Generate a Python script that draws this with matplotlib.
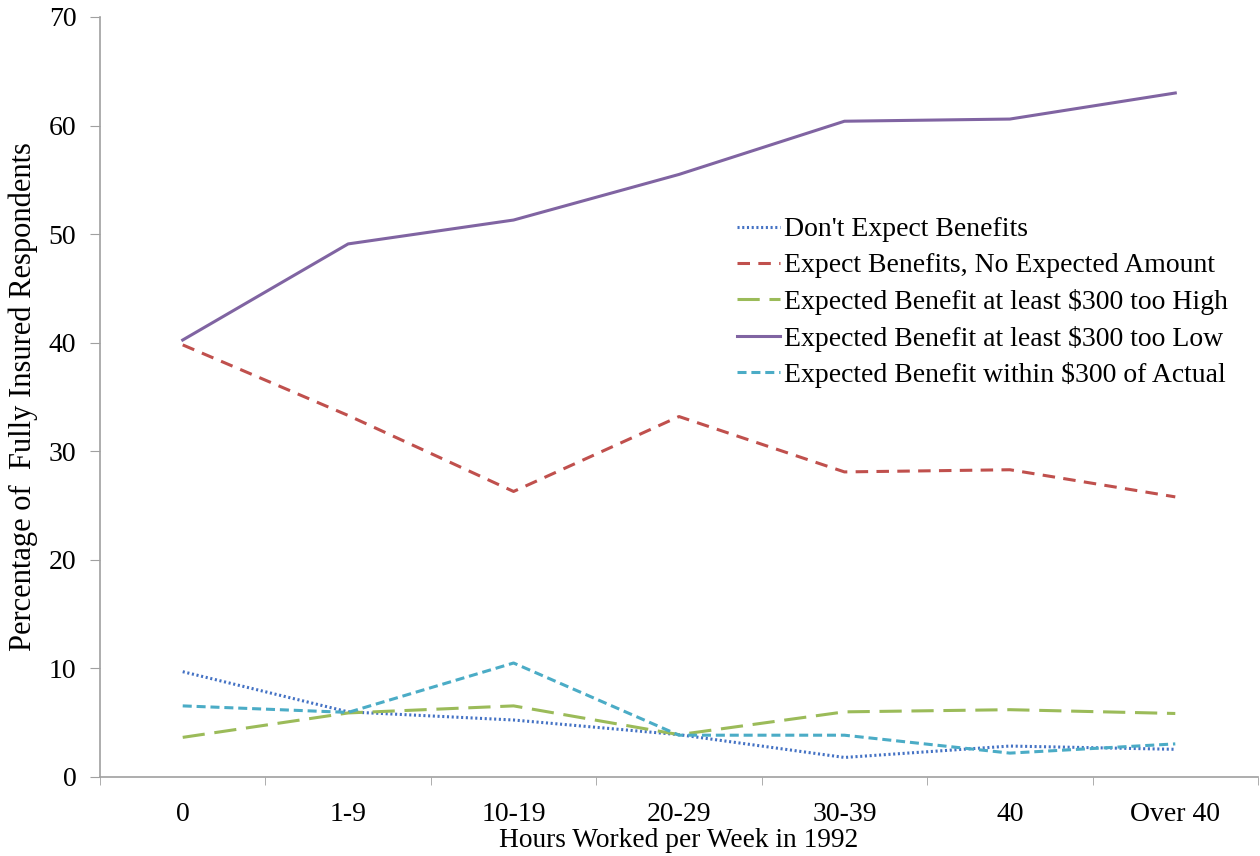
import numpy as np
import matplotlib
matplotlib.use("Agg")
import matplotlib.pyplot as plt

plt.rcParams['font.family'] = ['Liberation Serif', 'DejaVu Serif']
plt.rcParams['lines.scale_dashes'] = False

categories = ["0", "1-9", "10-19", "20-29", "30-39", "40", "Over 40"]
dont_expect = [9.7, 6.0, 5.25, 3.9, 1.8, 2.85, 2.55]
no_amount = [39.8, 33.3, 26.3, 33.2, 28.1, 28.3, 25.8]
too_high = [3.65, 5.9, 6.55, 3.9, 6.0, 6.2, 5.85]
too_low = [40.25, 49.1, 51.3, 55.5, 60.4, 60.6, 63.0]
within = [6.55, 5.95, 10.5, 3.85, 3.85, 2.2, 3.05]

labels = ["Don't Expect Benefits",
          "Expect Benefits, No Expected Amount",
          "Expected Benefit at least $300 too High",
          "Expected Benefit at least $300 too Low",
          "Expected Benefit within $300 of Actual"]
series = [dont_expect, no_amount, too_high, too_low, within]
colors = ["#4472C4", "#C0504D", "#9BBB59", "#8064A2", "#4BACC6"]
dashes = [(0, (1.5, 1.9)), (0, (9, 6)), (0, (16, 7)), "-", (0, (6.5, 3.5))]

fig = plt.figure(figsize=(12.6, 8.56), dpi=100)
ax = fig.add_axes([100/1260, 1-777/856, 1158/1260, 760/856])

x = np.arange(len(categories))
for s, c, d, lab in zip(series, colors, dashes, labels):
    ax.plot(x, s, color=c, linewidth=2.2, linestyle=d, label=lab,
            dash_capstyle='butt', solid_joinstyle='round', dash_joinstyle='round')

ax.set_xlim(-0.5, 6.5)
ax.set_ylim(0, 70)
ax.set_yticks(range(0, 71, 10))
ax.set_xticks(x)
ax.set_xticklabels(categories)
ax.set_xticks(np.arange(-0.5, 6.6, 1), minor=True)
ax.tick_params(axis='x', which='major', length=0, pad=18, labelsize=20)
ax.tick_params(axis='x', which='minor', length=6, color='#A0A0A0', direction='out')
ax.tick_params(axis='y', length=7, color='#A0A0A0', direction='out', labelsize=20, pad=10)

for side in ['top', 'right']:
    ax.spines[side].set_visible(False)
for side in ['left', 'bottom']:
    ax.spines[side].set_color('#A0A0A0')
    ax.spines[side].set_linewidth(1.2)

ax.set_xlabel("Hours Worked per Week in 1992", fontsize=19.7, labelpad=1)
ax.set_ylabel("Percentage of  Fully Insured Respondents", fontsize=22, labelpad=8)

leg = ax.legend(loc='upper left', bbox_to_anchor=(0.5406, 0.7514),
                frameon=False, fontsize=20, handlelength=1.55, handletextpad=0.12,
                labelspacing=0.38, borderaxespad=0)

fig.savefig("out.png", dpi=100)
